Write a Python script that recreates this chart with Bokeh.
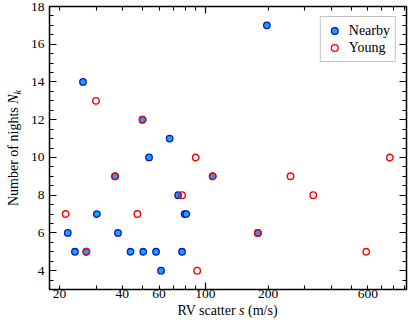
from bokeh.plotting import figure
from bokeh.models import LinearAxis, FixedTicker, Range1d, Legend, LegendItem, Div
from bokeh.layouts import row, column
from bokeh.embed import file_html
from bokeh.resources import INLINE

# ---- data ----
nearby_s = [197.0, 25.9, 30.2, 21.9, 23.7, 26.9, 36.9, 38.1, 43.8, 50.0,
            50.4, 58.0, 61.3, 53.7, 67.4, 74.0, 77.3, 79.5, 81.0, 108.4, 178.3]
nearby_n = [17, 14, 7, 6, 5, 5, 9, 6, 5, 12,
            5, 5, 4, 10, 11, 8, 5, 7, 7, 9, 6]

young_s = [21.4, 26.9, 29.9, 36.9, 47.2, 50.0, 77.3, 89.9, 91.3, 108.4,
           178.3, 255.9, 328.8, 590.6, 766.3]
young_n = [7, 5, 13, 9, 7, 12, 8, 10, 4, 9,
           6, 9, 8, 5, 10]

x_labels = [20, 40, 60, 100, 200, 600]
x_long = [100]
x_minor = [20, 30, 40, 50, 60, 70, 80, 90, 200, 300, 400, 500, 600, 700, 800, 900]
y_major = [4, 6, 8, 10, 12, 14, 16, 18]
y_minor = [3 + 0.5 * i for i in range(31)]

FONT = "Liberation Serif"
CSS_FONT = "'Liberation Serif', 'Times New Roman', Times, serif"
YDIV_W = 24
XDIV_H = 24
W, H = 411 - YDIV_W, 329 - XDIV_H
ML, MR, MT, MB = 25, 5, 6, 16

p = figure(width=W, height=H, x_axis_type="log",
           x_range=Range1d(17.9, 920), y_range=Range1d(3, 18),
           output_backend="svg", toolbar_location=None,
           x_axis_location=None, y_axis_location=None,
           min_border_left=ML, min_border_right=MR,
           min_border_top=MT, min_border_bottom=MB)
p.grid.visible = False
p.outline_line_color = "black"
p.outline_line_width = 1.5
p.background_fill_color = "white"
p.border_fill_color = "white"


def style_ticks(ax, major_len, minor_len):
    ax.axis_line_color = None
    ax.major_tick_in = major_len
    ax.major_tick_out = 0
    ax.minor_tick_in = minor_len
    ax.minor_tick_out = 0
    ax.major_tick_line_color = "black"
    ax.minor_tick_line_color = "black"
    ax.major_tick_line_width = 1.2
    ax.minor_tick_line_width = 1.1
    ax.major_label_text_font = FONT
    ax.major_label_text_color = "black"


yl = LinearAxis(ticker=FixedTicker(ticks=y_major, minor_ticks=y_minor))
style_ticks(yl, 7, 4)
yl.major_label_text_font_size = "13.5px"
yl.major_label_standoff = 5
p.add_layout(yl, "left")

yr = LinearAxis(ticker=FixedTicker(ticks=y_major, minor_ticks=y_minor))
style_ticks(yr, 7, 4)
yr.major_label_overrides = {t: "" for t in y_major}
yr.major_label_text_font_size = "1px"
yr.major_label_standoff = 0
p.add_layout(yr, "right")

xb = LinearAxis(ticker=FixedTicker(ticks=x_long, minor_ticks=x_minor))
style_ticks(xb, 7, 4)
xb.major_label_overrides = {t: "" for t in x_long}
xb.major_label_text_font_size = "1px"
xb.major_label_standoff = 0
p.add_layout(xb, "below")

xl = LinearAxis(ticker=FixedTicker(ticks=x_labels, minor_ticks=[]))
style_ticks(xl, 0, 0)
xl.major_tick_line_color = None
xl.minor_tick_line_color = None
xl.major_label_text_font_size = "13.5px"
xl.major_label_standoff = 0
p.add_layout(xl, "below")

xt = LinearAxis(ticker=FixedTicker(ticks=x_long, minor_ticks=x_minor))
style_ticks(xt, 7, 4)
xt.major_label_overrides = {t: "" for t in x_long}
xt.major_label_text_font_size = "1px"
xt.major_label_standoff = 0
p.add_layout(xt, "above")

r_near = p.scatter(nearby_s, nearby_n, marker="circle", size=6.5,
                   fill_color="#1aa3f0", line_color="#0a14c0", line_width=1.3)
r_young = p.scatter(young_s, young_n, marker="circle", size=6.5,
                    fill_color=None, line_color="#ff0000", line_width=1.4)

legend = Legend(items=[LegendItem(label="Nearby", renderers=[r_near]),
                       LegendItem(label="Young", renderers=[r_young])],
                location="top_right")
legend.label_text_font = FONT
legend.label_text_font_size = "14px"
legend.label_text_color = "black"
legend.border_line_color = "#888888"
legend.border_line_width = 1.5
legend.background_fill_color = "white"
legend.background_fill_alpha = 1.0
legend.margin = 10
legend.padding = 5
legend.spacing = 0
legend.glyph_width = 17
legend.glyph_height = 17
legend.label_height = 17
legend.label_standoff = 6
p.add_layout(legend)

# axis titles as HTML text (italic variable names, subscript k)
CENTER_Y = 148
ylabel_html = (
    f'<div style="position:relative;width:{YDIV_W}px;height:{H}px;">'
    f'<div style="position:absolute;left:0;top:0;width:{2 * CENTER_Y}px;height:27px;'
    f'transform-origin:0 0;transform:translate(0px,{2 * CENTER_Y}px) rotate(-90deg);'
    f'text-align:center;white-space:nowrap;font-family:{CSS_FONT};font-size:14px;'
    f'line-height:27px;color:black;">'
    'Number of nights <i>N</i><span style="font-size:10px;font-style:italic;'
    'vertical-align:-3px;">k</span></div></div>'
)
xlabel_html = (
    f'<div style="position:relative;width:411px;height:{XDIV_H}px;">'
    f'<div style="position:absolute;left:49px;top:-1px;width:357px;'
    f'text-align:center;white-space:nowrap;font-family:{CSS_FONT};font-size:14px;'
    f'line-height:14px;color:black;">'
    'RV scatter <i>s</i> (m/s)</div></div>'
)
ydiv = Div(text=ylabel_html, width=YDIV_W, height=H, margin=0)
xdiv = Div(text=xlabel_html, width=411, height=XDIV_H, margin=0)

layout = column(row(ydiv, p, spacing=0), xdiv, spacing=0)

open("out.html", "w").write(file_html(layout, INLINE))
